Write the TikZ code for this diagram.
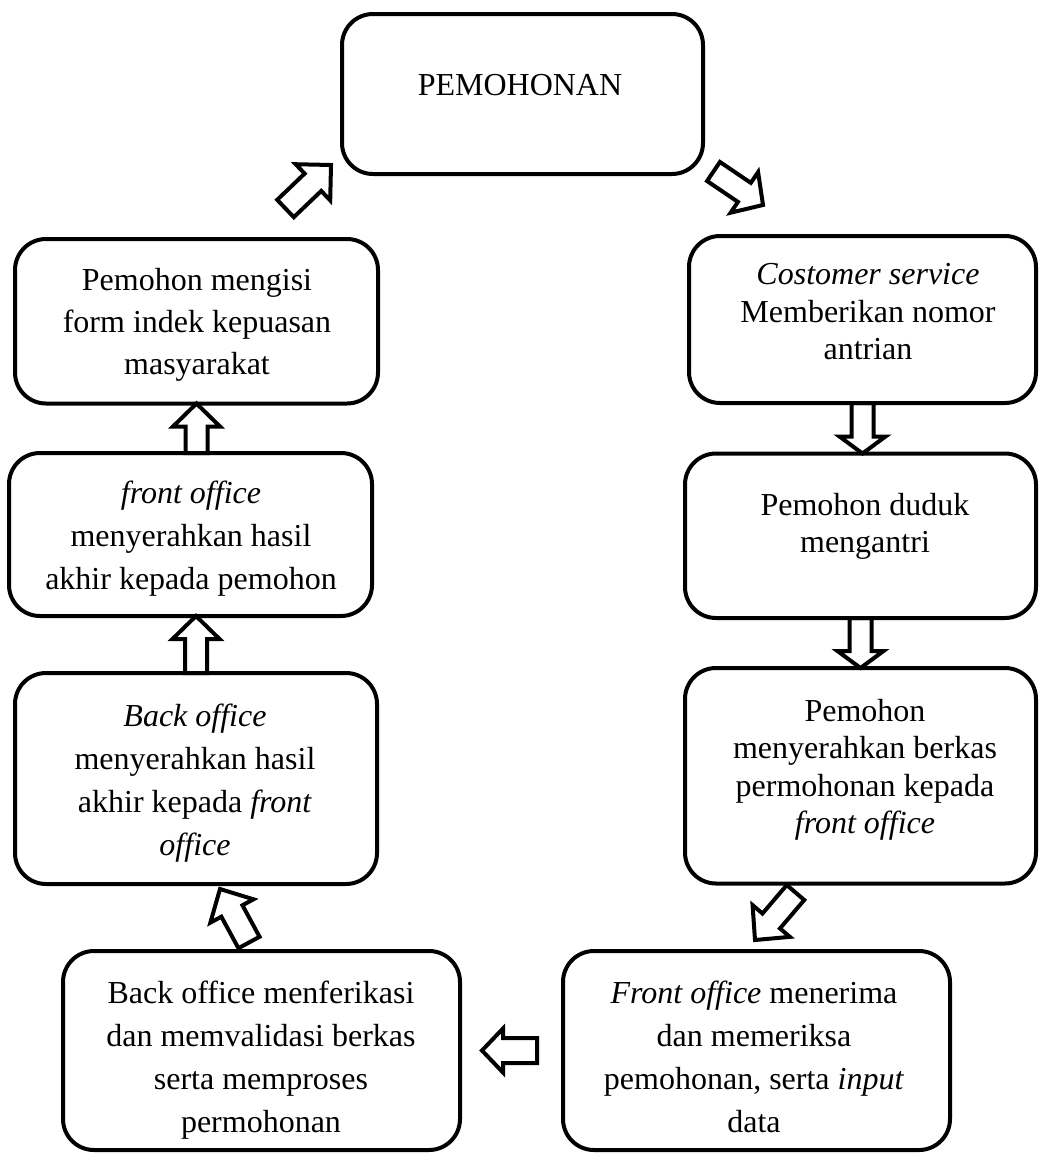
\documentclass[tikz,border=0pt]{standalone}
\usepackage{fontspec}
\setmainfont{Liberation Serif}
\usetikzlibrary{calc}
\tikzset{
  box/.style={draw, line width=4pt, rounded corners=31pt, inner sep=0pt, outer sep=0pt},
  txtL/.style={font=\fontsize{32pt}{43pt}\selectfont, align=center, inner sep=0pt, anchor=north},
  txtR/.style={font=\fontsize{32pt}{37.5pt}\selectfont, align=center, inner sep=0pt, anchor=north},
  arrowline/.style={draw, line width=4pt, line join=miter},
}
\newcommand\fstrut{\rule{0pt}{30pt}}
% block arrow: #1 tail, #2 tip, #3 shaft half width, #4 head half width, #5 head length
\newcommand\blockarrow[5]{%
  \coordinate (bT) at #1; \coordinate (bP) at #2;
  \coordinate (bH) at ($(bP)!#5!(bT)$);
  \draw[arrowline] ($(bT)!#3!90:(bP)$) -- ($(bH)!#3!90:(bP)$) -- ($(bH)!#4!90:(bP)$) -- (bP)
    -- ($(bH)!#4!-90:(bP)$) -- ($(bH)!#3!-90:(bP)$) -- ($(bT)!#3!-90:(bP)$) -- cycle;}

\begin{document}
\begin{tikzpicture}[x=1pt,y=-1pt]
\useasboundingbox (0,0) rectangle (1040,1163);

% boxes
\node[box, minimum width=361pt, minimum height=160pt] (top) at (522.5,94) {};
\node[box, minimum width=363pt, minimum height=164.5pt] (l1) at (196.5,321.25) {};
\node[box, minimum width=363pt, minimum height=163pt] (l2) at (190.5,534.5) {};
\node[box, minimum width=362pt, minimum height=211pt] (l3) at (196,778.5) {};
\node[box, minimum width=347pt, minimum height=167pt] (r1) at (862.5,319.5) {};
\node[box, minimum width=351pt, minimum height=164.5pt] (r2) at (860.5,535.75) {};
\node[box, minimum width=351pt, minimum height=215.5pt] (r3) at (860.5,775.75) {};
\node[box, minimum width=397pt, minimum height=199pt] (bl) at (261.5,1050.5) {};
\node[box, minimum width=387pt, minimum height=199pt] (br) at (756.5,1050.5) {};

% texts
\node[txtL] (ttop) at (520,65) {\fstrut PEMOHONAN};
\node[txtL, font=\fontsize{32pt}{42pt}\selectfont] (tl1) at (197,260) {\fstrut Pemohon mengisi\\form indek kepuasan\\masyarakat};
\node[txtL] (tl2) at (191,473) {\fstrut\textit{front office}\\menyerahkan hasil\\akhir kepada pemohon};
\node[txtL] (tl3) at (195,696) {\fstrut\textit{Back office}\\menyerahkan hasil\\akhir kepada \textit{front}\\\textit{office}};
\node[txtR] (tr1) at (868,254.5) {\fstrut\textit{Costomer service}\\Memberikan nomor\\antrian};
\node[txtR] (tr2) at (865,485) {\fstrut Pemohon duduk\\mengantri};
\node[txtR] (tr3) at (865,691) {\fstrut Pemohon\\menyerahkan berkas\\permohonan kepada\\\textit{front office}};
\node[txtL] (tbl) at (261,973) {\fstrut Back office menferikasi\\dan memvalidasi berkas\\serta memproses\\permohonan};
\node[txtL] (tbr) at (754,973) {\fstrut\textit{Front office} menerima\\dan memeriksa\\pemohonan, serta \textit{input}\\data};

% free ends of the diagonal arrows
\coordinate (aAt) at (285.5,208.5); \coordinate (aAp) at (331,165);
\coordinate (aBt) at (713.5,171.5); \coordinate (aBp) at (763,205);
\coordinate (aDt) at (795.5,892.5); \coordinate (aDp) at (755,940);
\coordinate (aFt) at (249,942.5);   \coordinate (aFp) at (220,889);

% arrows
\blockarrow{(aAt)}{(aAp)}{12pt}{25pt}{25pt}
\blockarrow{(aBt)}{(aBp)}{11.5pt}{24.5pt}{22.5pt}
\blockarrow{(r1.south)}{(r1.south |- r2.north)}{11pt}{23pt}{17pt}
\blockarrow{(r2.south)}{(r2.south |- r3.north)}{11pt}{23pt}{17pt}
\blockarrow{(aDt)}{(aDp)}{11.5pt}{24.5pt}{25pt}
\blockarrow{($(br.west)+(-26,0)$)}{($(bl.east)+(22,0)$)}{12.5pt}{22pt}{21pt}
\blockarrow{(aFt)}{(aFp)}{12pt}{24.5pt}{25pt}
\blockarrow{(l3.north)}{(l3.north |- l2.south)}{11pt}{23.5pt}{23pt}
\blockarrow{(l1.south |- l2.north)}{(l1.south)}{11pt}{23.5pt}{23pt}
\end{tikzpicture}
\end{document}
